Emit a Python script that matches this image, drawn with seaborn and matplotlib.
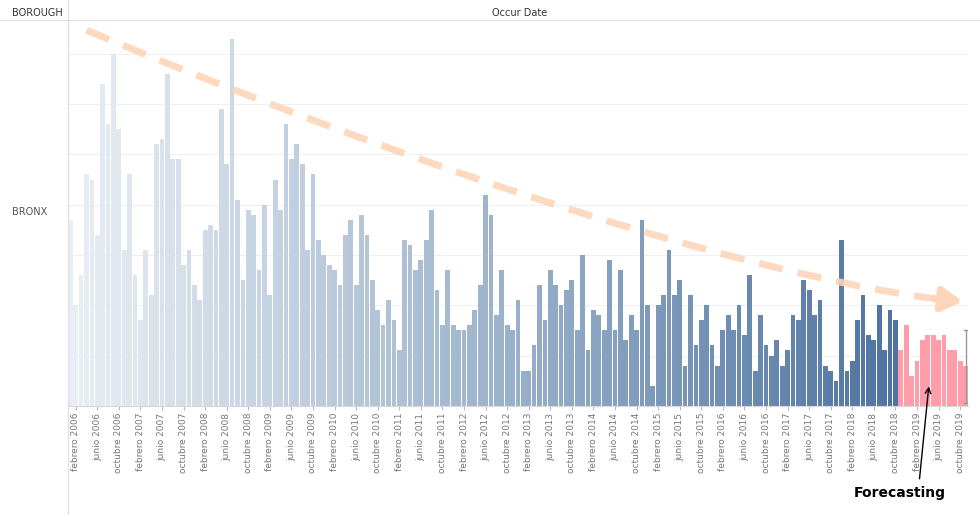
import numpy as np
import pandas as pd
import matplotlib
matplotlib.use("Agg")
import matplotlib.pyplot as plt
import seaborn as sns
from matplotlib.colors import LinearSegmentedColormap, to_hex

actual = [37,20,26,46,45,34,64,56,70,55,31,46,26,17,31,22,52,53,66,49,49,28,31,24,
          21,35,36,35,59,48,73,41,25,39,38,27,40,22,45,39,56,49,52,48,31,46,33,30,
          28,27,24,34,37,24,38,34,25,19,16,21,17,11,33,32,27,29,33,39,23,16,27,16,
          15,15,16,19,24,42,38,18,27,16,15,21,7,7,12,24,17,27,24,20,23,25,15,30,
          11,19,18,15,29,15,27,13,18,15,37,20,4,20,22,31,22,25,8,22,12,17,20,12,
          8,15,18,15,20,14,26,7,18,12,10,13,8,11,18,17,25,23,18,21,8,7,5,33,
          7,9,17,22,14,13,20,11,19,17]
forecast = [11,16,6,9,13,14,14,13,14,11,11,9,8]
months_es = ["enero","febrero","marzo","abril","mayo","junio","julio","agosto",
             "septiembre","octubre","noviembre","diciembre"]
start_year = 2006
trend_x = [3, 166]
trend_y = [74.7, 20.7]

vals = actual + forecast
n = len(vals)
df = pd.DataFrame({"idx": np.arange(n), "val": vals})
cmap = LinearSegmentedColormap.from_list("b", ["#e9eef4", "#9fb5cd", "#4f73a0"])
colors = [to_hex(cmap(i / (len(actual) - 1))) for i in range(len(actual))] + ["#ff9eaa"] * len(forecast)

fig = plt.figure(figsize=(9.8, 5.15), dpi=100)
ax = fig.add_axes([0.069, 0.212, 0.919, 0.749])
sns.barplot(data=df, x="idx", y="val", hue="idx", palette=colors, legend=False,
            width=0.88, ax=ax, linewidth=0, saturation=1)
ax.set_ylim(0, 76.7)
ax.set_xlim(-0.5, n - 0.5)
ax.set_yticks(np.arange(10, 76, 10))
ax.set_yticklabels([])
ax.tick_params(axis="y", length=0)
ax.grid(axis="y", color="#f0f0f0", lw=0.8)
ax.set_axisbelow(True)
for s in ["top", "right"]:
    ax.spines[s].set_visible(False)
ax.spines["left"].set_color("#d8d8d8")
ax.spines["bottom"].set_color("#d8d8d8")
ax.set_xlabel(""); ax.set_ylabel("")

tick_pos = [i for i in range(n) if i % 12 in (1, 5, 9)]
ax.set_xticks(tick_pos)
ax.set_xticklabels([f"{months_es[i % 12]} {start_year + i // 12}" for i in tick_pos],
                   rotation=90, fontsize=6.5, color="#777777")
ax.tick_params(axis="x", length=3, color="#bbbbbb", pad=2)

# trend
tx = np.linspace(trend_x[0], trend_x[1], 50)
t = (tx - trend_x[0]) / (trend_x[1] - trend_x[0])
ty = trend_y[1] + (trend_y[0] - trend_y[1]) * (1 - t) ** 1.35
ax.plot(tx[:-2], ty[:-2], color="#fdd5b8", lw=5, ls=(0, (3.5, 2.2)), alpha=0.9, zorder=5)
ax.annotate("", xy=(tx[-1], ty[-1]), xytext=(tx[-3], ty[-3]),
            arrowprops=dict(arrowstyle="-|>,head_length=1.2,head_width=0.7",
                            color="#fdd5b8", lw=5), zorder=5)

# forecast interval marker
ax.plot([n - 1, n - 1], [0.5, 15], color="#999999", lw=1)
ax.plot([n - 1.2, n - 0.8], [15, 15], color="#999999", lw=1)
ax.plot([n - 1.2, n - 0.8], [0.5, 0.5], color="#999999", lw=1)

fig.text(0.012, 0.975, "BOROUGH", fontsize=7, color="#333333", va="center")
fig.text(0.53, 0.975, "Occur Date", fontsize=7, color="#333333", va="center", ha="center")
fig.text(0.012, 0.588, "BRONX", fontsize=7, color="#555555", va="center")
fig.add_artist(plt.Line2D([0.069, 0.069], [0.0, 1.0], color="#e0e0e0", lw=0.8))
fig.add_artist(plt.Line2D([0.0, 1.0], [0.962, 0.962], color="#e0e0e0", lw=0.8))

fig.text(0.918, 0.035, "Forecasting", fontsize=10, fontweight="bold", ha="center")
ax.annotate("", xy=(0.948, 0.255), xycoords="figure fraction",
            xytext=(0.938, 0.065), textcoords="figure fraction",
            arrowprops=dict(arrowstyle="->", color="black", lw=1))

fig.savefig("out.png", dpi=100)
